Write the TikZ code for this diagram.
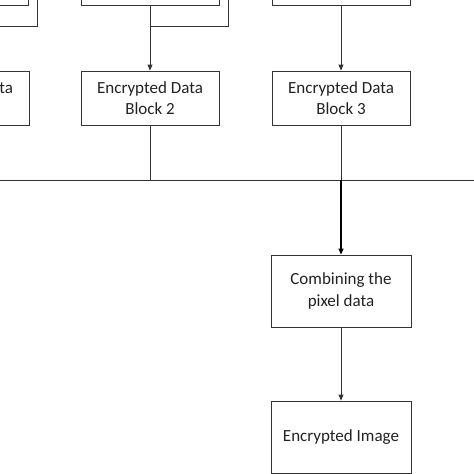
\documentclass[tikz,border=0pt]{standalone}
\usepackage{fontspec}
\setmainfont{Carlito}
\usetikzlibrary{arrows.meta}
\definecolor{ln}{HTML}{333333}
\definecolor{tx}{HTML}{222222}
\begin{document}
\begin{tikzpicture}[x=1pt,y=-1pt,
  box/.style={draw=ln,line width=0.8pt,fill=white,minimum width=138pt,minimum height=54pt,
    align=center,inner sep=0pt,text=tx,font=\fontsize{17}{21.5}\selectfont},
  bigbox/.style={box,minimum width=140pt,minimum height=72pt},
  conn/.style={draw=ln,line width=0.8pt},
  arr/.style={conn,-{Triangle[length=6pt,width=5pt]}}]
\useasboundingbox (0,0) rectangle (474,474);
\clip (0,0) rectangle (474,474);
% top row (partially visible)
\node[box] (a1) at (-41,-22) {};
\node[box] (b1) at (150,-22) {};
\node[box] (c1) at (341,-22) {};
% second row
\node[box] (a2) at (-40,98) {Encrypted Data\\Block 1};
\node[box] (b2) at (150,98) {Encrypted Data\\Block 2};
\node[box] (c2) at (341,98) {Encrypted Data\\Block 3};
% lower boxes
\node[bigbox] (comb) at (341,291) {Combining the\\pixel data};
\node[bigbox] (img) at (341,437) {Encrypted Image};
% elbow connectors from above
\coordinate (e1) at (37,-10);
\coordinate (e1l) at (-10,26);
\coordinate (e2) at (228,-10);
\coordinate (e2j) at (150,26);
\draw[conn] (e1) |- (e1l);
\draw[conn] (e2) |- (e2j);
% vertical arrows
\draw[arr] (b1.south) -- (b2.north);
\draw[arr] (c1.south) -- (c2.north);
% bus line
\coordinate (busl) at (-60,180);
\coordinate (busr) at (480,180);
\coordinate (busj) at (341,180);
\draw[conn] (busl) -- (busr);
\draw[conn] (a2.south) -- (a2.south |- busl);
\draw[conn] (b2.south) -- (b2.south |- busl);
\draw[conn] (c2.south) -- (busj);
\draw[arr,draw=black,line width=1.2pt] (busj) -- (comb.north);
\draw[arr] (comb.south) -- (img.north);
\end{tikzpicture}
\end{document}
